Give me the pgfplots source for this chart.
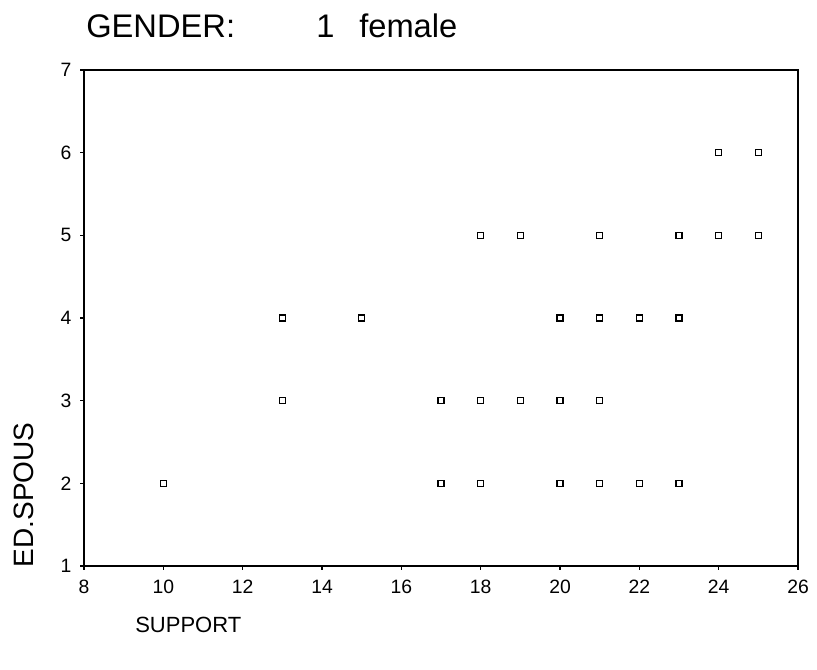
\documentclass[border=0pt]{standalone}
\usepackage{pgfplots}
\pgfplotsset{compat=1.18}
\usepackage{fontspec}
\setmainfont{Liberation Sans}
\begin{document}
\begin{tikzpicture}[x=0.75pt,y=0.75pt]
\useasboundingbox (0,0) rectangle (817,670);
\begin{axis}[
  at={(63pt,78pt)}, anchor=south west,
  scale only axis, width=535.5pt, height=372pt,
  xmin=8, xmax=26, ymin=1, ymax=7,
  xtick={8,10,...,26}, ytick={1,...,7},
  xtick pos=bottom, ytick pos=left,
  tick align=outside, major tick length=3pt,
  axis line style={line width=1pt},
  tick style={black, line width=0.8pt},
  ticklabel style={font=\fontsize{14.5}{16}\selectfont},
  xticklabel style={yshift=-4pt},
  yticklabel style={xshift=-3pt},
  /pgf/number format/assume math mode=true,
  clip=false,
]
\addplot[only marks, mark=square, mark size=2.2pt, mark options={black, line width=1.1pt}] table {
x y
10 2
13 4
13 3
15 4
17 3
17 2
18 5
18 3
18 2
19 5
19 3
20 4
20 3
20 2
21 5
21 4
21 3
21 2
22 4
22 2
23 5
23 4
23 2
24 6
24 5
25 6
25 5
};
\end{axis}
\node[anchor=base west, inner sep=0pt, font=\fontsize{24.5}{28}\selectfont] at (86,632) {GENDER:};
\node[anchor=base west, inner sep=0pt, font=\fontsize{24.5}{28}\selectfont] at (316,632) {1};
\node[anchor=base west, inner sep=0pt, font=\fontsize{24.5}{28}\selectfont] at (359,632) {female};
\node[anchor=west, inner sep=0pt, font=\fontsize{16.5}{18}\selectfont] at (135,45) {SUPPORT};
\node[rotate=90, inner sep=0pt, font=\fontsize{21}{24}\selectfont] at (24,175) {ED.SPOUS};
\end{tikzpicture}
\end{document}
